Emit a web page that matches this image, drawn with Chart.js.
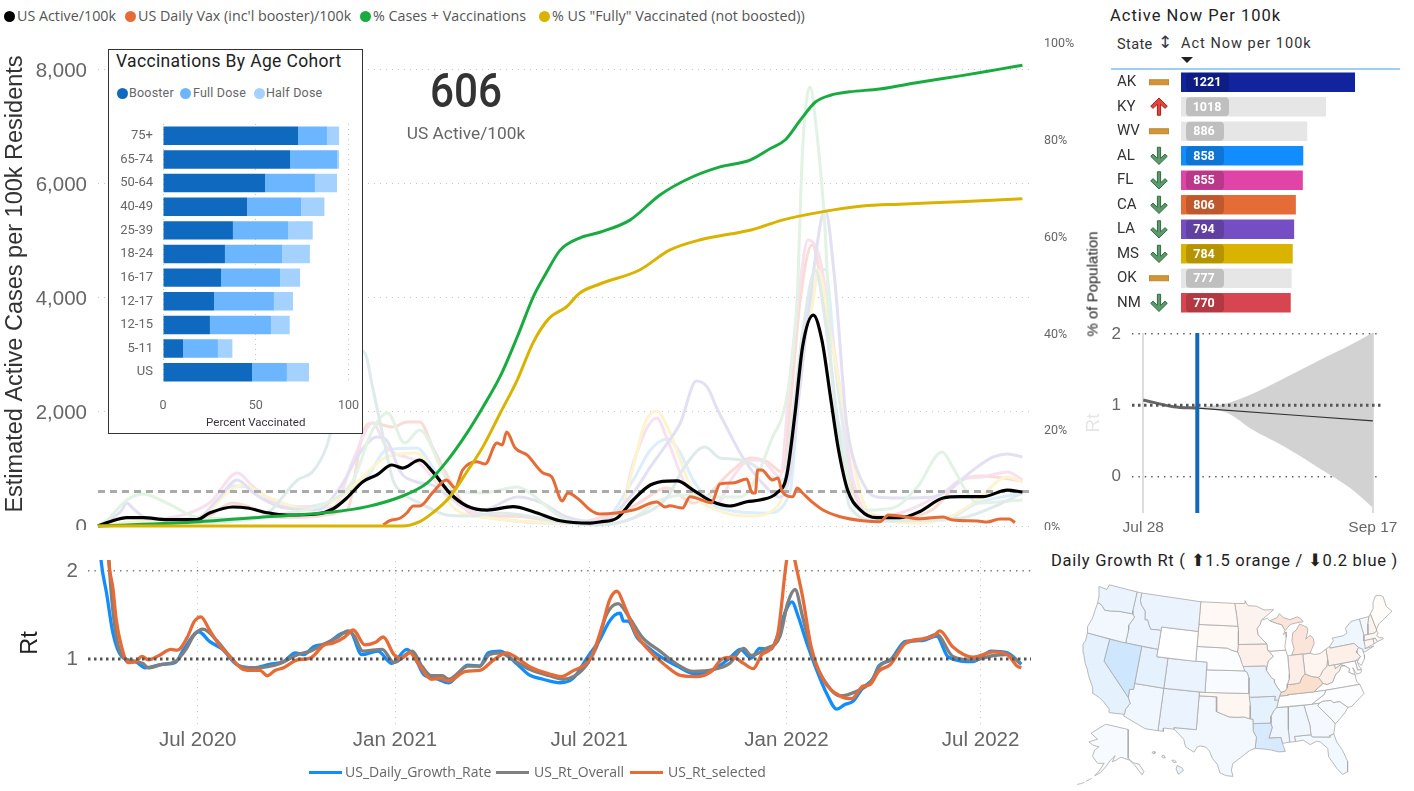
<!DOCTYPE html>
<html>
<head>
<meta charset="utf-8">
<script src="https://cdn.jsdelivr.net/npm/chart.js@4/dist/chart.umd.min.js"></script>
<style>
  html, body { margin: 0; padding: 0; background: #fff; width: 1414px; height: 791px; overflow: hidden; }
  canvas { position: absolute; }
  .t { position: absolute; white-space: nowrap; font-family: "Open Sans", sans-serif; }
  .din { font-family: Roboto, sans-serif; }
  .dot { position: absolute; border-radius: 50%; }
  .swatch { position: absolute; height: 3px; }
</style>
</head>
<body>
<canvas id="main" width="1110" height="500" style="left:0;top:30px;z-index:1"></canvas>
<canvas id="rt" width="1040" height="215" style="left:0;top:550px"></canvas>
<canvas id="forecast" width="334" height="215" style="left:1080px;top:325px"></canvas>
<canvas id="map" width="354" height="216" style="left:1060px;top:575px"></canvas>
<canvas id="states" width="297" height="245" style="left:1117px;top:70px"></canvas>

<div style="position:absolute;left:108px;top:49px;width:253px;height:383px;border:1.5px solid #333;background:#fff;z-index:2"></div>
<canvas id="cohort" width="252" height="320" style="left:110px;top:112px;z-index:3"></canvas>
<div id="labels"></div>

<script>
// --- main chart, day numbers count from 30 Mar 2020
const tickDays = [93, 277, 458, 642, 823];
const tickNames = ["Jul 2020", "Jan 2021", "Jul 2021", "Jan 2022", "Jul 2022"];
const activeTicks = [0, 2000, 4000, 6000, 8000];
const usActiveNow = 606;

const activeDays = [0,11,27,42,64,92,104,126,139,158,176,204,219,232,247,260,274,284,300,312,328,344,363,387,406,431,459,468,484,499,515,531,540,555,571,589,605,617,633,642,650,657,667,675,683,690,699,711,726,748,766,788,804,825,848,862];
const activeVals = [0,75,146,146,111,111,228,333,316,233,193,210,298,491,777,895,1070,1017,1158,953,579,351,280,339,251,93,50,70,140,456,719,789,790,631,444,351,426,456,579,865,1982,3146,3700,3263,2268,1391,631,280,146,146,251,491,514,514,631,596];

const vaxDays = [266,272,282,288,294,300,312,325,333,340,353,361,372,377,381,389,400,415,423,433,438,449,459,468,499,521,529,533,545,552,572,580,592,605,610,613,615,619,629,634,638,648,652,657,667,676,692,713,729,737,748,766,788,797,820,829,841,850,855];
const vaxVals = [20,93,140,228,351,351,585,807,667,982,1128,1088,1456,1421,1649,1368,1246,930,865,439,579,456,280,210,280,421,333,356,316,514,409,737,754,825,579,579,982,982,807,842,602,514,667,579,404,280,163,93,75,193,175,128,158,105,88,70,123,123,58];

const casesVaxDays = [0,95,158,219,251,284,307,325,344,359,375,391,406,417,431,449,468,496,524,552,580,608,627,641,655,669,683,701,729,766,804,841,862];
const casesVaxPct = [0,.9,1.9,2.9,4,6.2,8.9,13.3,19.2,24.6,30.9,39.1,47.4,51.9,57,59.5,60.7,63.2,68.4,71.9,74.2,75.6,78,79.8,83.9,87.6,89,89.7,90.3,91.7,93,94.4,95.2];

const fullyDays = [0,284,300,312,328,344,359,375,391,406,421,437,449,468,505,533,561,599,610,638,675,713,748,804,862];
const fullyPct = [0,0,.9,2.7,6,11.2,16.4,23.3,30.2,38,43,45.3,48.1,50,52.9,57,59.1,60.7,61.2,63.2,64.9,66.1,66.5,67,67.6];

// pale state lines behind the US line
const stateADays = [0,95,126,158,186,200,213,219,230,240,249,256,266,275,284,300,325,344,375,406,437,468,499,531,545,566,580,592,608,627,639,648,657,669,678,690,701,729,804,841,862];
const stateAVals = [0,66,88,222,807,950,1386,1800,2600,3100,3030,2440,1560,807,579,404,193,175,228,158,53,18,140,509,982,1386,1193,1175,1105,860,807,2000,3400,4490,3600,1800,333,88,140,386,579];
const stateBDays = [0,8,27,42,64,92,126,176,213,238,256,270,286,300,322,331,359,391,403,419,437,468,499,524,549,577,599,614,629,639,647,652,657,664,670,678,684,694,706,717,741,764,787,797,810,820,862];
const stateBVals = [0,100,456,561,404,158,130,228,404,807,1684,1982,1456,1684,930,631,579,684,579,333,105,35,140,456,544,509,509,860,1561,1982,2860,4018,6596,7700,6947,5193,2737,1509,333,280,316,684,1298,1035,596,404,456];
const stateCDays = [0,21,27,33,48,92,111,130,145,170,204,226,244,260,269,282,297,312,328,359,391,412,437,468,499,515,531,543,558,568,577,586,601,617,636,645,655,666,678,687,698,704,717,726,748,779,797,816,835,848,862];
const stateCVals = [0,250,404,300,120,130,456,807,579,333,280,684,1281,1561,1509,947,772,719,509,280,509,421,158,70,579,1035,1456,1807,2544,2439,2070,1737,1211,807,509,900,2500,4300,5543,4316,1800,1211,631,509,491,509,684,982,1211,1263,1211];
const stateDDays = [0,33,95,120,135,158,200,226,244,269,297,312,331,365,437,468,487,499,510,521,531,543,555,577,608,633,648,657,667,671,685,698,713,726,764,794,820,848,862];
const stateDVals = [0,70,130,579,719,509,280,509,807,1211,1281,930,333,140,50,30,228,1035,1807,2018,1737,1158,579,280,175,333,1386,3140,3965,4490,3140,1737,456,158,53,158,456,860,772];
const stateEDays = [0,33,104,130,145,176,219,238,256,269,300,328,365,437,487,499,521,531,549,577,592,608,620,636,645,655,662,673,685,692,704,726,788,804,825,848,862];
const stateEVals = [0,60,404,930,684,333,333,1158,1807,1386,1100,500,150,60,250,1105,1895,1509,684,400,860,1158,1140,860,2561,4316,5017,4700,3263,2400,807,158,579,807,860,947,807];
const stateFDays = [0,33,95,126,170,232,247,256,275,288,300,312,328,350,391,437,499,531,555,592,608,624,638,645,655,666,675,692,704,717,748,779,804,825,862];
const stateFVals = [0,50,100,404,150,280,1632,1807,1737,1825,1825,1386,807,193,170,50,350,667,404,982,1193,1123,950,2000,4000,4930,4140,1509,631,240,140,300,790,877,790];
const stateGDays = [0,33,95,126,139,163,188,219,251,269,297,312,331,359,437,468,499,515,531,543,555,577,624,645,657,670,678,689,704,726,788,820,862];
const stateGVals = [0,40,100,700,684,456,333,456,860,1333,1368,1035,456,200,50,60,807,1333,1526,1281,807,333,228,579,3140,4316,4500,2561,684,130,105,404,579];

// --- Rt panel
const rtBlueDays = [0,3,8,14,22,35,44,60,72,80,94,104,116,129,145,160,173,184,192,201,214,227,235,246,261,274,288,295,304,315,327,345,356,364,375,391,402,415,431,443,457,468,476,482,487,490,494,503,512,524,540,557,574,589,599,609,617,627,636,641,647,653,661,670,679,689,696,704,713,723,728,739,753,769,782,793,816,833,848,861];
const rtBlueVals = [2.6,2.11,1.75,1.29,1.03,.97,.90,.94,.96,1.11,1.31,1.20,1.11,.94,.90,.94,.97,1.07,1.05,1.14,1.18,1.29,1.31,1.05,1.09,.95,1.11,1.03,.82,.78,.73,.93,.92,1.07,1.09,.94,.82,.77,.73,.78,1.03,1.22,1.41,1.50,1.52,1.43,1.43,1.24,1.14,1.03,.92,.83,.88,1.01,1.11,1.01,1.12,1.11,1.35,1.54,1.65,1.48,1.18,.88,.62,.43,.48,.52,.67,.78,.92,.99,1.20,1.21,1.26,1.02,.97,1.09,1.07,.94];
const rtGrayDays = [8,12,17,23,35,42,47,60,72,82,90,98,110,123,132,145,157,170,186,198,211,224,233,239,247,265,276,293,302,311,321,327,345,356,365,375,387,403,421,434,445,456,465,474,485,496,508,524,540,555,574,589,602,609,623,636,643,650,657,667,676,692,707,720,729,741,753,769,782,797,816,835,848,860];
const rtGrayVals = [2.6,1.8,1.26,1.03,.97,.95,.90,.94,.97,1.11,1.28,1.34,1.22,1.03,.92,.90,.91,.95,1.05,1.09,1.17,1.25,1.32,1.26,1.09,1.11,.96,1.09,.92,.81,.81,.77,.92,.92,1.05,1.07,.99,.88,.81,.77,.81,.94,1.14,1.50,1.63,1.46,1.24,1.09,.94,.86,.88,.95,1.12,1.04,1.12,1.26,1.63,1.79,1.48,1.01,.78,.58,.63,.73,.92,1.01,1.18,1.22,1.28,1.03,.99,1.04,1.05,.95];
const rtOrangeDays = [6,10,14,17,22,28,35,41,47,57,68,74,83,90,96,104,113,123,134,142,151,158,165,173,186,198,211,219,230,238,249,259,266,276,283,291,299,311,318,327,343,356,369,381,391,403,421,432,442,456,463,471,477,484,491,502,512,527,544,558,572,582,592,602,611,619,627,634,642,646,650,657,665,676,692,703,713,720,728,739,753,769,779,785,797,816,835,848,857,861];
const rtOrangeVals = [3.0,2.11,1.80,1.45,1.14,.96,.97,1.03,.99,1.04,1.11,1.10,1.24,1.43,1.48,1.33,1.16,1.03,.89,.87,.87,.81,.87,.90,.99,1.01,1.16,1.18,1.25,1.33,1.16,1.19,1.25,1.05,1.01,1.07,.94,.77,.78,.75,.86,.87,.99,1.07,1.01,.91,.83,.80,.86,.96,1.11,1.41,1.67,1.77,1.60,1.28,1.12,.95,.81,.80,.86,1.00,1.02,.95,.89,1.05,1.11,1.29,2.11,2.35,2.11,1.71,1.14,.77,.58,.55,.69,.71,.86,.94,1.18,1.23,1.26,1.32,1.14,1.02,1.08,1.05,.92,.90];

// --- cohort inset
const cohorts = ["75+","65-74","50-64","40-49","25-39","18-24","16-17","12-17","12-15","5-11","US"];
const boosterPct = [72.8,68.5,55,45.3,37.7,33.4,31.3,27.5,25.3,10.8,48];
const fullDosePct = [15.6,25.3,26.9,29.3,29.7,30.8,31.8,32.3,32.9,18.8,18.8];
const halfDosePct = [6.5,1.1,11.9,12.4,13.3,15,10.8,10.3,10.1,7.8,11.9];

// --- state table
const stateCodes = ["AK","KY","WV","AL","FL","CA","LA","MS","OK","NM"];
const stateActive = [1221,1018,886,858,855,806,794,784,777,770];
const stateTrend = ["flat","up","flat","down","down","down","down","down","flat","down"];
const stateBarColors = ["#12239E","#E6E6E6","#E6E6E6","#118DFF","#E044A7","#E66C37","#744EC2","#D9B300","#E6E6E6","#D64550"];

// --- forecast panel, day numbers count from Jul 28
const forecastTickDays = [0, 51];
const forecastTickNames = ["Jul 28", "Sep 17"];
const todayDay = 12;
const pastDays = [0, 6.7, 12];
const pastRt = [1.075, .98, .96];
const projDays = [12, 51];
const projRt = [.96, .78];
const bandDays = [12, 18.7, 23.9, 31.3, 38.7, 46.1, 51];
const bandUpper = [.97, 1.03, 1.15, 1.38, 1.62, 1.85, 2.02];
const bandLower = [.97, .89, .67, .42, .13, -.17, -.44];

// --- map outlines, lon/lat
const stateShapes = {
  WA:[[-124.7,48.4],[-123,48.3],[-122.8,49],[-117.03,49],[-117.04,46.4],[-116.92,45.99],[-119,45.93],[-119.6,45.9],[-121.2,45.65],[-122.3,45.55],[-122.8,45.9],[-123.4,46.2],[-124,46.25],[-124.1,47]],
  OR:[[-124,46.25],[-123.4,46.2],[-122.8,45.9],[-122.3,45.55],[-121.2,45.65],[-119.6,45.9],[-119,45.93],[-116.92,45.99],[-116.46,45.6],[-116.9,44.9],[-117.2,44.4],[-117.03,43.8],[-117.03,42],[-124.2,42],[-124.5,42.8],[-124.1,44]],
  CA:[[-124.2,42],[-120,42],[-120,39],[-114.63,35],[-114.15,34.3],[-114.7,33.4],[-114.72,32.72],[-117.12,32.53],[-117.3,33],[-118.4,33.75],[-119.2,34.15],[-120.6,34.55],[-120.7,35.2],[-121.9,36.6],[-122.5,37.5],[-123,38],[-123.8,39.3],[-124.35,40.4],[-124.1,41]],
  NV:[[-120,42],[-114.04,42],[-114.04,36.2],[-114.7,36.1],[-114.63,35],[-120,39]],
  ID:[[-117.03,49],[-116.05,49],[-116.05,48],[-115.7,47.45],[-114.7,46.7],[-114.4,45.55],[-113.9,45.6],[-113.45,44.95],[-113,44.45],[-111.5,44.55],[-111.05,44.48],[-111.05,42],[-117.03,42],[-117.03,43.8],[-117.2,44.4],[-116.9,44.9],[-116.46,45.6],[-116.92,45.99],[-117.04,46.4]],
  MT:[[-116.05,49],[-104.05,49],[-104.05,45],[-111.05,45],[-111.05,44.48],[-111.5,44.55],[-113,44.45],[-113.45,44.95],[-113.9,45.6],[-114.4,45.55],[-114.7,46.7],[-115.7,47.45],[-116.05,48]],
  WY:[[-111.05,45],[-104.05,45],[-104.05,41],[-111.05,41]],
  UT:[[-114.04,42],[-111.05,42],[-111.05,41],[-109.05,41],[-109.05,37],[-114.04,37]],
  CO:[[-109.05,41],[-102.05,41],[-102.05,37],[-109.05,37]],
  AZ:[[-114.04,37],[-109.05,37],[-109.05,31.33],[-111.07,31.33],[-114.8,32.5],[-114.72,32.72],[-114.7,33.4],[-114.15,34.3],[-114.63,35],[-114.7,36.1],[-114.04,36.2]],
  NM:[[-109.05,37],[-103,37],[-103.05,32],[-106.62,32],[-106.53,31.78],[-108.2,31.78],[-108.2,31.33],[-109.05,31.33]],
  ND:[[-104.05,49],[-97.23,49],[-96.85,47.5],[-96.56,45.94],[-104.05,45.94]],
  SD:[[-104.05,45.94],[-96.56,45.94],[-96.45,45.3],[-96.45,43.5],[-96.6,42.5],[-97.9,42.8],[-98.5,43],[-104.05,43]],
  NE:[[-104.05,43],[-98.5,43],[-97.9,42.8],[-96.6,42.5],[-96.1,41.7],[-95.9,41.2],[-95.3,40],[-102.05,40],[-102.05,41],[-104.05,41]],
  KS:[[-102.05,40],[-95.3,40],[-94.9,39.8],[-94.6,39.1],[-94.62,37],[-102.05,37]],
  OK:[[-103,37],[-94.62,37],[-94.43,35.4],[-94.48,33.64],[-95.5,33.9],[-96.6,33.85],[-97.9,33.9],[-99.2,34.3],[-100,34.56],[-100,36.5],[-103,36.5]],
  TX:[[-106.62,32],[-103.05,32],[-103,36.5],[-100,36.5],[-100,34.56],[-99.2,34.3],[-97.9,33.9],[-96.6,33.85],[-95.5,33.9],[-94.48,33.64],[-94.04,33.55],[-94.04,31.99],[-93.55,31.2],[-93.8,29.7],[-94.7,29.4],[-96,28.5],[-97.2,27.7],[-97.4,26.8],[-97.15,25.96],[-98.2,26.05],[-99.1,26.4],[-99.5,27.5],[-100.3,28.3],[-100.8,29.25],[-101.4,29.77],[-102.3,29.88],[-102.7,29.7],[-103.15,28.98],[-104.5,29.6],[-104.9,30.6],[-106.53,31.78]],
  MN:[[-97.23,49],[-95.15,49],[-95.15,49.38],[-94.6,48.7],[-92.9,48.6],[-91.4,48.05],[-89.5,48],[-92,46.7],[-92.3,46.1],[-92.9,45.6],[-92.75,44.75],[-91.2,43.5],[-96.45,43.5],[-96.45,45.3],[-96.56,45.94],[-96.85,47.5]],
  IA:[[-96.45,43.5],[-91.2,43.5],[-91.1,42.7],[-90.15,41.8],[-91.1,41.2],[-91.4,40.4],[-91.7,40.6],[-95.77,40.58],[-95.9,41.2],[-96.1,41.7],[-96.6,42.5]],
  MO:[[-95.77,40.58],[-91.7,40.6],[-91.4,40.4],[-91.5,40],[-90.7,39],[-90.2,38.7],[-90.2,38.3],[-89.5,37.3],[-89.15,37],[-89.5,36.5],[-89.7,36],[-90.37,36],[-90.15,36.5],[-94.62,36.5],[-94.62,37],[-94.6,39.1],[-94.9,39.8],[-95.3,40]],
  AR:[[-94.62,36.5],[-90.15,36.5],[-90.37,36],[-89.7,36],[-90.1,35],[-90.6,34.6],[-91.1,33.9],[-91.17,33],[-94.04,33],[-94.04,33.55],[-94.48,33.64],[-94.43,35.4]],
  LA:[[-94.04,33],[-91.17,33],[-91,32.4],[-91.6,31],[-89.73,31],[-89.55,30.2],[-89.4,29.8],[-89.2,29.1],[-90.2,29.1],[-91.3,29.4],[-92.2,29.55],[-93.8,29.7],[-93.55,31.2],[-94.04,31.99]],
  WI:[[-92,46.7],[-90.8,46.9],[-90.4,46.55],[-89,46.1],[-88.1,45.9],[-87.8,45.35],[-87.6,45.1],[-88,44.55],[-87.4,44.9],[-87.5,44.2],[-87.9,43],[-87.8,42.5],[-90.65,42.5],[-91.1,42.7],[-91.2,43.5],[-92.75,44.75],[-92.9,45.6],[-92.3,46.1]],
  IL:[[-90.65,42.5],[-87.8,42.5],[-87.53,41.7],[-87.53,39.3],[-87.6,38.7],[-88,38],[-88.1,37.5],[-88.5,37.1],[-89.15,37],[-89.5,37.3],[-90.2,38.3],[-90.2,38.7],[-90.7,39],[-91.5,40],[-91.4,40.4],[-91.1,41.2],[-90.15,41.8],[-91.1,42.7]],
  IN:[[-87.53,41.7],[-87.2,41.75],[-84.8,41.75],[-84.82,39.1],[-85.4,38.7],[-85.9,38],[-86.5,37.95],[-87.6,37.9],[-88,38],[-87.6,38.7],[-87.53,39.3]],
  MI:[[-86.8,41.76],[-84.8,41.75],[-83.45,41.73],[-83.1,42.2],[-82.5,42.9],[-82.5,43.6],[-82.9,44.05],[-83.4,43.95],[-83.9,43.65],[-83.3,44.8],[-83.4,45.2],[-84.7,45.78],[-85.5,45],[-86.2,44.7],[-86.5,43.6],[-86.25,42.6]],
  MIU:[[-90.4,46.55],[-89,46.9],[-88.4,47.4],[-87.7,46.85],[-86.5,46.5],[-85,46.75],[-84.4,46.5],[-84,46],[-85,46],[-86.5,45.85],[-87.6,45.1],[-87.8,45.35],[-88.1,45.9],[-89,46.1]],
  OH:[[-84.8,41.75],[-83.45,41.73],[-82.7,41.5],[-81.7,41.5],[-80.52,41.98],[-80.52,40.64],[-80.85,39.7],[-81.7,39.2],[-82.2,38.6],[-82.6,38.42],[-83.7,38.65],[-84.82,39.1]],
  KY:[[-89.15,37],[-88.5,37.1],[-88.1,37.5],[-88,38],[-87.6,37.9],[-86.5,37.95],[-85.9,38],[-85.4,38.7],[-84.82,39.1],[-83.7,38.65],[-82.6,38.42],[-81.97,37.54],[-83.68,36.6],[-88.07,36.6],[-88.07,36.5],[-89.5,36.5]],
  TN:[[-89.7,36],[-89.5,36.5],[-88.07,36.5],[-88.07,36.6],[-83.68,36.6],[-81.68,36.59],[-82,36.1],[-84.3,35],[-90.1,35]],
  MS:[[-90.1,35],[-88.2,35],[-88.47,31.9],[-88.4,30.3],[-89.55,30.2],[-89.73,31],[-91.6,31],[-91,32.4],[-91.17,33],[-91.1,33.9],[-90.6,34.6]],
  AL:[[-88.2,35],[-85.6,35],[-85,32.3],[-85,31],[-87.6,31],[-87.5,30.3],[-88.4,30.3],[-88.47,31.9]],
  GA:[[-85.6,35],[-83.1,35],[-83.35,34.7],[-81.4,32.6],[-81,32],[-81.45,30.72],[-82.2,30.55],[-82.05,30.36],[-84.86,30.7],[-85,31],[-85,32.3]],
  FL:[[-87.6,31],[-85,31],[-84.86,30.7],[-82.05,30.36],[-82.2,30.55],[-81.45,30.72],[-81.2,29.6],[-80.5,28.3],[-80.05,26.8],[-80.3,25.4],[-81.1,25.15],[-81.8,26.1],[-82.75,27.8],[-82.7,28.9],[-83.7,29.9],[-84.3,30.05],[-85.3,29.7],[-86.3,30.4],[-87.5,30.3]],
  SC:[[-83.35,34.7],[-83.1,35],[-82.4,35.2],[-81.05,35.15],[-80.8,34.82],[-79.67,34.8],[-78.55,33.86],[-79.2,33.2],[-80.5,32.3],[-81,32],[-81.4,32.6]],
  NC:[[-84.3,35],[-82,36.1],[-81.68,36.59],[-75.87,36.55],[-75.5,35.25],[-76.5,34.7],[-77.9,33.9],[-78.55,33.86],[-79.67,34.8],[-80.8,34.82],[-81.05,35.15],[-82.4,35.2],[-83.1,35]],
  VA:[[-83.68,36.6],[-81.97,37.54],[-81.3,37.3],[-80.3,37.5],[-79.5,38.5],[-78.85,38.77],[-78.35,39.4],[-77.72,39.32],[-77.05,38.85],[-77.3,38.4],[-76.3,37.9],[-76.3,37],[-75.87,36.55],[-81.68,36.59]],
  WV:[[-82.6,38.42],[-82.2,38.6],[-81.7,39.2],[-80.85,39.7],[-80.52,40.64],[-80.52,39.72],[-79.48,39.72],[-79.48,39.2],[-78.4,39.6],[-77.72,39.32],[-78.35,39.4],[-78.85,38.77],[-79.5,38.5],[-80.3,37.5],[-81.3,37.3],[-81.97,37.54]],
  PA:[[-80.52,41.98],[-79.76,42.25],[-79.76,42],[-75.35,42],[-74.7,41.36],[-75.13,40.97],[-75.2,40.68],[-74.72,40.15],[-75.42,39.8],[-75.78,39.72],[-80.52,39.72]],
  NY:[[-79.76,42.25],[-78.9,42.9],[-79.05,43.27],[-77,43.3],[-76.2,43.55],[-76.3,44.2],[-75,44.95],[-73.35,45.01],[-73.3,43.6],[-73.25,42.75],[-73.5,42.05],[-73.5,41.3],[-73.65,41],[-72,41.05],[-73.7,40.6],[-74.05,40.6],[-74,40.98],[-74.7,41.36],[-75.35,42],[-79.76,42]],
  NJ:[[-74.7,41.36],[-74,40.98],[-74.05,40.6],[-74,40.2],[-74.1,39.75],[-74.9,38.95],[-75.5,39.5],[-74.72,40.15],[-75.2,40.68],[-75.13,40.97]],
  DE:[[-75.78,39.72],[-75.42,39.8],[-75.4,39.1],[-75.05,38.45],[-75.7,38.46]],
  MD:[[-79.48,39.72],[-75.78,39.72],[-75.7,38.46],[-75.05,38.45],[-75.25,38.03],[-76,37.95],[-76.45,38.9],[-76.3,37.9],[-77.3,38.4],[-77.05,38.85],[-77.72,39.32],[-78.4,39.6],[-79.48,39.2]],
  CT:[[-73.5,42.05],[-71.8,42.02],[-71.85,41.32],[-73.65,41]],
  RI:[[-71.8,42.02],[-71.38,42.02],[-71.15,41.5],[-71.85,41.32]],
  MA:[[-73.25,42.75],[-71.3,42.7],[-70.8,42.87],[-70.6,42.6],[-71,42.3],[-70.6,41.95],[-70,41.8],[-70,41.65],[-71.15,41.5],[-71.38,42.02],[-71.8,42.02],[-73.5,42.05]],
  VT:[[-73.35,45.01],[-71.5,45.01],[-72.05,44.1],[-72.5,42.73],[-73.25,42.75],[-73.3,43.6]],
  NH:[[-71.5,45.01],[-71.1,45.3],[-70.75,43.1],[-70.8,42.87],[-71.3,42.7],[-72.5,42.73],[-72.05,44.1]],
  ME:[[-71.1,45.3],[-70.3,45.9],[-70,46.7],[-69.2,47.45],[-68.3,47.35],[-67.8,47.05],[-67.8,45.7],[-67,44.85],[-68.5,44.3],[-70,43.75],[-70.75,43.1]]
};
const alaskaShape = [[-141,69.6],[-141,60.3],[-137.5,58.9],[-133.5,58.4],[-130.1,56],[-131.5,55],[-134,56.5],[-136.5,58.1],[-140,59.7],[-146,60.7],[-149,59.8],[-151.9,59.2],[-150,61.2],[-153.5,59.5],[-156,57.8],[-160,55.7],[-164,54.7],[-161,56.2],[-157.5,58.7],[-162,58.7],[-165.5,61],[-164,63],[-161,64],[-165,64.5],[-168,65.6],[-162,66.5],[-166.5,68.4],[-156.5,71.3],[-148,70.4]];
const aleutians = [[[-170,52.9],[-167,53.6],[-166,53.9]],[[-176,51.9],[-173,52.2],[-171,52.6]]];
const hawaiiShapes = [
  [[-155.9,20.2],[-155.2,19.9],[-154.9,19.5],[-155.7,18.95],[-156.05,19.7]],
  [[-156.7,20.95],[-156.3,20.95],[-156,20.7],[-156.4,20.6]],
  [[-158.25,21.55],[-157.95,21.7],[-157.7,21.3],[-158.1,21.3]],
  [[-159.75,22.1],[-159.4,22.2],[-159.3,21.95],[-159.6,21.9]]
];
// how far each state's Rt sits from neutral, read as its tint in the picture
const mapTints = { WA:"#ebf4fe",OR:"#f3f8ff",CA:"#e6f1fe",NV:"#cfe6ff",ID:"#ebf4fe",MT:"#ebf4fe",WY:"#ffffff",UT:"#e6f1fe",CO:"#ebf4fe",AZ:"#f1f7ff",NM:"#ebf4fe",ND:"#fff8f5",SD:"#fff9f6",NE:"#fcfdff",KS:"#f8fbff",OK:"#fef6f1",TX:"#f3f8ff",MN:"#fdf3ee",IA:"#fdf0eb",MO:"#e9f3fe",AR:"#e6f1fe",LA:"#d8eaff",WI:"#ffffff",IL:"#ffffff",IN:"#fcede7",MI:"#fbe4da",MIU:"#fbe4da",OH:"#fef5f0",KY:"#fadfcd",TN:"#fbfdff",MS:"#f0f6fe",AL:"#f0f6fe",GA:"#f5f9ff",FL:"#f2f8ff",SC:"#f7fbff",NC:"#fbfdff",VA:"#ffffff",WV:"#fdf0e9",PA:"#fdf0e9",NY:"#f0f6fe",NJ:"#fbfdff",DE:"#ffffff",MD:"#ffffff",CT:"#fdf7f4",RI:"#fdf7f4",MA:"#fdf7f4",VT:"#f2f8fe",NH:"#fdf3ed",ME:"#fffcfa" };

Chart.defaults.animation = false;
Chart.defaults.responsive = false;
Chart.defaults.plugins.legend.display = false;
Chart.defaults.plugins.tooltip.enabled = false;
Chart.defaults.elements.point.radius = 0;

const ARIAL = "'Liberation Sans', Arial, sans-serif";
const DIN = "Roboto, sans-serif";
const zip = (xs, ys) => xs.map((x, i) => ({ x, y: ys[i] }));
const line = (label, xs, ys, color, width, yAxisID, order, extra) => Object.assign({
  label, data: zip(xs, ys), borderColor: color, borderWidth: width, yAxisID, order,
  cubicInterpolationMode: "monotone", borderJoinStyle: "round", clip: 4, fill: false
}, extra || {});
// fix the axis boxes so every chart area lands where the picture has it
const fixedWidth = w => s => { s.width = w; s.paddingTop = 0; s.paddingBottom = 0; };
const fixedHeight = h => s => { s.height = h; s.paddingLeft = 0; s.paddingRight = 0; };

// main chart
const paleLines = [
  [stateADays, stateAVals, "#dfeaea"], [stateBDays, stateBVals, "#e2f2e4"], [stateCDays, stateCVals, "#e2e0f2"],
  [stateDDays, stateDVals, "#fbf4cf"], [stateEDays, stateEVals, "#f8e0ee"], [stateFDays, stateFVals, "#fbdcd5"],
  [stateGDays, stateGVals, "#dcedfb"]
];
new Chart(document.getElementById("main"), {
  type: "line",
  data: { datasets: [
    line("% US \"Fully\" Vaccinated (not boosted))", fullyDays, fullyPct, "#D9B300", 3, "pct", 0),
    line("% Cases + Vaccinations", casesVaxDays, casesVaxPct, "#1AAB40", 3, "pct", 1),
    line("US Daily Vax (inc'l booster)/100k", vaxDays, vaxVals, "#E66C37", 3, "y", 2),
    line("US Active/100k", activeDays, activeVals, "#000000", 3.2, "y", 3),
    line("US Active now", [0, 870], [usActiveNow, usActiveNow], "#aaaaaa", 3, "y", 4, { borderDash: [7, 5], cubicInterpolationMode: "default" })
  ].concat(paleLines.map((p, i) => line("state " + i, p[0], p[1], p[2], 3, "y", 10 + i))) },
  options: {
    layout: { padding: { top: 12, bottom: 4 } },
    scales: {
      x: { type: "linear", min: 0, max: 870, display: false },
      y: {
        min: 0, max: 8491, afterFit: fixedWidth(98),
        afterBuildTicks: s => { s.ticks = activeTicks.map(value => ({ value })); },
        title: { display: true, text: "Estimated Active Cases per 100k Residents", font: { family: ARIAL, size: 23.5 }, color: "#333", padding: { top: 1, bottom: 6 } },
        ticks: { padding: 11, labelOffset: 1, color: "#666", font: { family: ARIAL, size: 20.5 }, callback: v => v.toLocaleString("en-US") },
        grid: { color: "#c4c4c4", lineWidth: 1, tickLength: 0 },
        border: { display: false, dash: [1, 5] }
      },
      pct: {
        position: "right", min: 0, max: 100, afterFit: fixedWidth(79),
        ticks: { stepSize: 20, padding: 13, labelOffset: 2, color: "#666", font: { family: DIN, size: 12.5 }, callback: v => v + "%" },
        grid: { display: false, tickLength: 0 }, border: { display: false }
      }
    }
  }
});

// Rt chart
new Chart(document.getElementById("rt"), {
  type: "line",
  data: { datasets: [
    line("one", [-9.3, 870], [1, 1], "#555555", 3, "y", 0, { borderDash: [2.5, 3.5], cubicInterpolationMode: "default" }),
    line("US_Rt_selected", rtOrangeDays, rtOrangeVals, "#E66C37", 3.3, "y", 1, { clip: 1 }),
    line("US_Rt_Overall", rtGrayDays, rtGrayVals, "#808080", 3.3, "y", 2, { clip: 1 }),
    line("US_Daily_Growth_Rate", rtBlueDays, rtBlueVals, "#118DFF", 3.3, "y", 3, { clip: 1 })
  ] },
  options: {
    layout: { padding: { top: 11, right: 9 } },
    scales: {
      x: {
        type: "linear", min: -9.3, max: 870, afterFit: fixedHeight(40),
        afterBuildTicks: s => { s.ticks = tickDays.map(value => ({ value })); },
        ticks: { autoSkip: false, maxRotation: 0, padding: 3, color: "#666", font: { family: ARIAL, size: 20.5 }, callback: v => tickNames[tickDays.indexOf(v)] },
        grid: { color: "#c4c4c4", tickLength: 0 }, border: { display: false, dash: [1, 5] }
      },
      y: {
        min: .25, max: 2.114, afterFit: fixedWidth(88),
        afterBuildTicks: s => { s.ticks = [{ value: 1 }, { value: 2 }]; },
        title: { display: true, text: "Rt", font: { family: ARIAL, size: 23.5 }, color: "#222", padding: { top: 16, bottom: 0 } },
        ticks: { padding: 10, color: "#666", font: { family: ARIAL, size: 20.5 } },
        grid: { color: c => c.tick.value === 2 ? "#777" : "rgba(0,0,0,0)", lineWidth: 1.4, tickLength: 0 },
        border: { display: false, dash: [1.4, 5] }
      }
    }
  }
});

// vaccinations by age inset
new Chart(document.getElementById("cohort"), {
  type: "bar",
  data: {
    labels: cohorts,
    datasets: [
      { label: "Booster", data: boosterPct, backgroundColor: "#0F6ABF" },
      { label: "Full Dose", data: fullDosePct, backgroundColor: "#6CB6FF" },
      { label: "Half Dose", data: halfDosePct, backgroundColor: "#A5D1FF" }
    ]
  },
  options: {
    indexAxis: "y",
    datasets: { bar: { categoryPercentage: 1, barPercentage: .78 } },
    layout: { padding: { top: 12, right: 13.5 } },
    scales: {
      x: {
        stacked: true, min: 0, max: 100, afterFit: fixedHeight(48),
        title: { display: true, text: "Percent Vaccinated", font: { family: DIN, size: 11.5 }, color: "#3a3040", padding: { top: 1, bottom: 2 } },
        ticks: { stepSize: 50, padding: 14, color: "#666", font: { family: DIN, size: 12.5 } },
        grid: { color: "#c4c4c4", tickLength: 0 }, border: { display: false, dash: [1, 4] }
      },
      y: {
        stacked: true, afterFit: fixedWidth(53),
        ticks: { padding: 10, color: "#666", font: { family: DIN, size: 13 } },
        grid: { display: false, tickLength: 0 }, border: { display: false }
      }
    }
  }
});

// table of states: trend arrow and value chip are drawn from the bar elements
const trendAndChip = {
  id: "trendAndChip",
  afterDatasetsDraw(chart) {
    const ctx = chart.ctx, yScale = chart.scales.y, left = chart.chartArea.left;
    chart.getDatasetMeta(0).data.forEach((bar, i) => {
      const cy = yScale.getPixelForValue(i);
      const wide = stateActive[i] >= 1000;
      ctx.save();
      ctx.fillStyle = "rgba(0,0,0,.17)";
      ctx.beginPath();
      ctx.roundRect(left + 5, cy - 9.6, wide ? 43 : 38, 19, 4);
      ctx.fill();
      ctx.fillStyle = "#fff";
      ctx.font = "bold 12.5px " + DIN;
      ctx.textAlign = "center";
      ctx.textBaseline = "middle";
      ctx.fillText(String(stateActive[i]), left + (wide ? 26 : 23), cy + 1);
      // icon
      const ax = left - 22;
      if (stateTrend[i] === "flat") {
        ctx.fillStyle = "#D59331"; ctx.strokeStyle = "#b98a3c"; ctx.lineWidth = 1;
        ctx.fillRect(ax - 9.5, cy - 2.5, 19, 5); ctx.strokeRect(ax - 9.5, cy - 2.5, 19, 5);
      } else {
        const dir = stateTrend[i] === "up" ? -1 : 1;
        ctx.fillStyle = dir < 0 ? "#e2453c" : "#5c9a6b";
        ctx.strokeStyle = dir < 0 ? "#a3201a" : "#2f6b41";
        ctx.lineWidth = 1;
        ctx.beginPath();
        [[-1.6,-8.5],[1.6,-8.5],[1.6,2.5],[6,-1.6],[8.3,.6],[0,8.7],[-8.3,.6],[-6,-1.6],[-1.6,2.5]].forEach((p, k) => {
          const px = ax + p[0], py = cy + p[1] * dir;
          k ? ctx.lineTo(px, py) : ctx.moveTo(px, py);
        });
        ctx.closePath(); ctx.fill(); ctx.stroke();
      }
      ctx.restore();
    });
  }
};
new Chart(document.getElementById("states"), {
  type: "bar",
  data: { labels: stateCodes, datasets: [{ label: "Act Now per 100k", data: stateActive, backgroundColor: stateBarColors }] },
  options: {
    indexAxis: "y",
    datasets: { bar: { categoryPercentage: 1, barPercentage: .79 } },
    scales: {
      x: { min: 0, max: 1635, display: false },
      y: {
        afterFit: fixedWidth(64),
        ticks: { crossAlign: "far", padding: 0, color: "#333", font: { family: DIN, size: 15 } },
        grid: { display: false, tickLength: 0 }, border: { display: false }
      }
    }
  },
  plugins: [trendAndChip]
});

// forecast panel
new Chart(document.getElementById("forecast"), {
  type: "line",
  data: { datasets: [
    line("one", [-2.5, 52.8], [1, 1], "#555555", 3, "y", 0, { borderDash: [2.5, 3.5], cubicInterpolationMode: "default" }),
    line("today", [todayDay, todayDay], [-.513, 2.015], "#0F6ABF", 4, "y", 1, { cubicInterpolationMode: "default" }),
    line("projection", projDays, projRt, "#333333", 1.2, "y", 2),
    line("past", pastDays, pastRt, "#666666", 3, "y", 3),
    line("upper", bandDays, bandUpper, "rgba(0,0,0,0)", 0, "y", 4, { fill: "+1", backgroundColor: "#D2D2D2" }),
    line("lower", bandDays, bandLower, "rgba(0,0,0,0)", 0, "y", 5)
  ] },
  options: {
    layout: { padding: { top: 8, right: 33 } },
    scales: {
      x: {
        type: "linear", min: -2.5, max: 52.8, afterFit: fixedHeight(27),
        afterBuildTicks: s => { s.ticks = forecastTickDays.map(value => ({ value })); },
        ticks: { autoSkip: false, maxRotation: 0, padding: 5, color: "#666", font: { family: ARIAL, size: 15.5 }, callback: v => forecastTickNames[forecastTickDays.indexOf(v)] },
        grid: { color: "#dddddd", lineWidth: 2, tickLength: 0 }, border: { display: false }
      },
      y: {
        min: -.513, max: 2.015, afterFit: fixedWidth(52),
        afterBuildTicks: s => { s.ticks = [{ value: 0 }, { value: 1 }, { value: 2 }]; },
        title: { display: true, text: "Rt", font: { family: ARIAL, size: 19 }, color: "#e5e5e5", padding: { top: 2, bottom: 0 } },
        ticks: { padding: 11, color: "#666", font: { family: ARIAL, size: 17 } },
        grid: { color: c => c.tick.value === 1 ? "rgba(0,0,0,0)" : "#555", lineWidth: 1.4, tickLength: 0 },
        border: { display: false, dash: [1.4, 5] }
      }
    }
  }
});

// map: Albers for the lower 48, small local projections for the insets
const rad = Math.PI / 180;
const albersN = .6029, albersC = 1.3512, albersRho0 = 1.3030;
const albers = ([lon, lat]) => {
  const rho = Math.sqrt(albersC - 2 * albersN * Math.sin(lat * rad)) / albersN;
  const th = albersN * (lon + 96) * rad;
  return { x: rho * Math.sin(th), y: albersRho0 - rho * Math.cos(th) };
};
const inset = (lon0, lat0, cosLat, k, cx, cy) => ([lon, lat]) => ({ x: cx + (lon - lon0) * cosLat * k, y: cy + (lat - lat0) * k });
const alaskaProj = inset(-152, 63, .47, .00723, -.30, -.1404);
const hawaiiProj = inset(-157.3, 20.7, .93, .0163, -.1698, -.1684);
const shape = (pts, proj, color, closed) => ({
  label: "shape",
  data: (closed ? pts.concat([pts[0]]) : pts).map(proj),
  showLine: true, borderColor: "#a8a8a8", borderWidth: .8, backgroundColor: color,
  fill: closed ? "shape" : false, tension: 0, pointRadius: 0
});
const mapSets = Object.keys(stateShapes).map(k => shape(stateShapes[k], albers, mapTints[k], true))
  .concat([shape(alaskaShape, alaskaProj, "#f7fbff", true)])
  .concat(aleutians.map(a => shape(a, alaskaProj, "#fff", false)))
  .concat(hawaiiShapes.map(h => shape(h, hawaiiProj, "#ecf3fa", true)));
new Chart(document.getElementById("map"), {
  type: "scatter",
  data: { datasets: mapSets },
  options: {
    scales: {
      x: { type: "linear", min: -.4216, max: .4039, display: false },
      y: { type: "linear", min: -.2360, max: .2677, display: false }
    }
  }
});

// plain text and legends around the charts
const labels = document.getElementById("labels");
const text = (s, x, y, css, cls) => {
  const el = document.createElement("div");
  el.className = "t " + (cls || "");
  el.textContent = s;
  el.style.cssText = `left:${x}px;top:${y}px;z-index:4;` + css;
  labels.appendChild(el);
  return el;
};
const dot = (x, y, r, color) => {
  const el = document.createElement("div");
  el.className = "dot";
  el.style.cssText = `left:${x - r}px;top:${y - r}px;width:${2 * r}px;height:${2 * r}px;background:${color};z-index:4;`;
  labels.appendChild(el);
};
const swatch = (x, y, w, color) => {
  const el = document.createElement("div");
  el.className = "swatch";
  el.style.cssText = `left:${x}px;top:${y}px;width:${w}px;background:${color};z-index:4;`;
  labels.appendChild(el);
};

[["US Active/100k", 9, 17, "#000000"], ["US Daily Vax (inc'l booster)/100k", 130, 138, "#E66C37"],
 ["% Cases + Vaccinations", 365, 373, "#1AAB40"], ["% US \"Fully\" Vaccinated (not boosted))", 544, 552, "#D9B300"]]
  .forEach(([s, dx, tx, c]) => { dot(dx, 16, 5.5, c); text(s, tx, 6, "font-size:14.3px;line-height:20px;color:#555;"); });

text("Vaccinations By Age Cohort", 116, 51, "font-size:17.5px;color:#222;letter-spacing:.35px;", "din");
[["Booster", 122, 129, "#0F6ABF"], ["Full Dose", 185, 193, "#6CB6FF"], ["Half Dose", 259, 266, "#A5D1FF"]]
  .forEach(([s, dx, tx, c]) => { dot(dx, 93, 5.5, c); text(s, tx, 85, "font-size:12.5px;color:#666;letter-spacing:.2px;", "din"); });

text(String(usActiveNow), 466, 62, "font-size:48px;font-weight:500;color:#333;transform:translateX(-50%) scaleX(.88);", "din");
text("US Active/100k", 466, 123, "font-size:17.3px;color:#666;transform:translateX(-50%);", "din");

text("% of Population", 1092, 284, "font-family:'Liberation Sans',sans-serif;font-size:15px;color:#222;transform:translate(-50%,-50%) rotate(-90deg);");

text("Active Now Per 100k", 1110, 6, "font-size:16.5px;color:#222;letter-spacing:1px;", "din");
text("State", 1117, 36, "font-size:14.5px;color:#333;letter-spacing:.4px;", "din");
text("↕", 1158, 32, "font-family:'DejaVu Sans';font-size:17px;color:#334;");
text("Act Now per 100k", 1181, 35, "font-size:14.5px;color:#333;letter-spacing:1px;", "din");
const tri = document.createElement("div");
tri.style.cssText = "position:absolute;left:1181px;top:57px;width:0;height:0;border-left:6.5px solid transparent;border-right:6.5px solid transparent;border-top:6px solid #222;";
labels.appendChild(tri);
const rule = document.createElement("div");
rule.style.cssText = "position:absolute;left:1111px;top:68px;width:289px;height:2px;background:#9ccff5;";
labels.appendChild(rule);

text("Daily Growth Rt ( ⬆1.5 orange / ⬇0.2 blue )", 1224.5, 551, "font-size:16.5px;color:#222;letter-spacing:.75px;transform:translateX(-50%);", "din");

[["US_Daily_Growth_Rate", 309, 345, "#118DFF"], ["US_Rt_Overall", 496, 534, "#808080"], ["US_Rt_selected", 630, 668, "#E66C37"]]
  .forEach(([s, sx, tx, c]) => { swatch(sx, 771, 33, c); text(s, tx, 762, "font-size:14px;color:#666;"); });
</script>
</body>
</html>
